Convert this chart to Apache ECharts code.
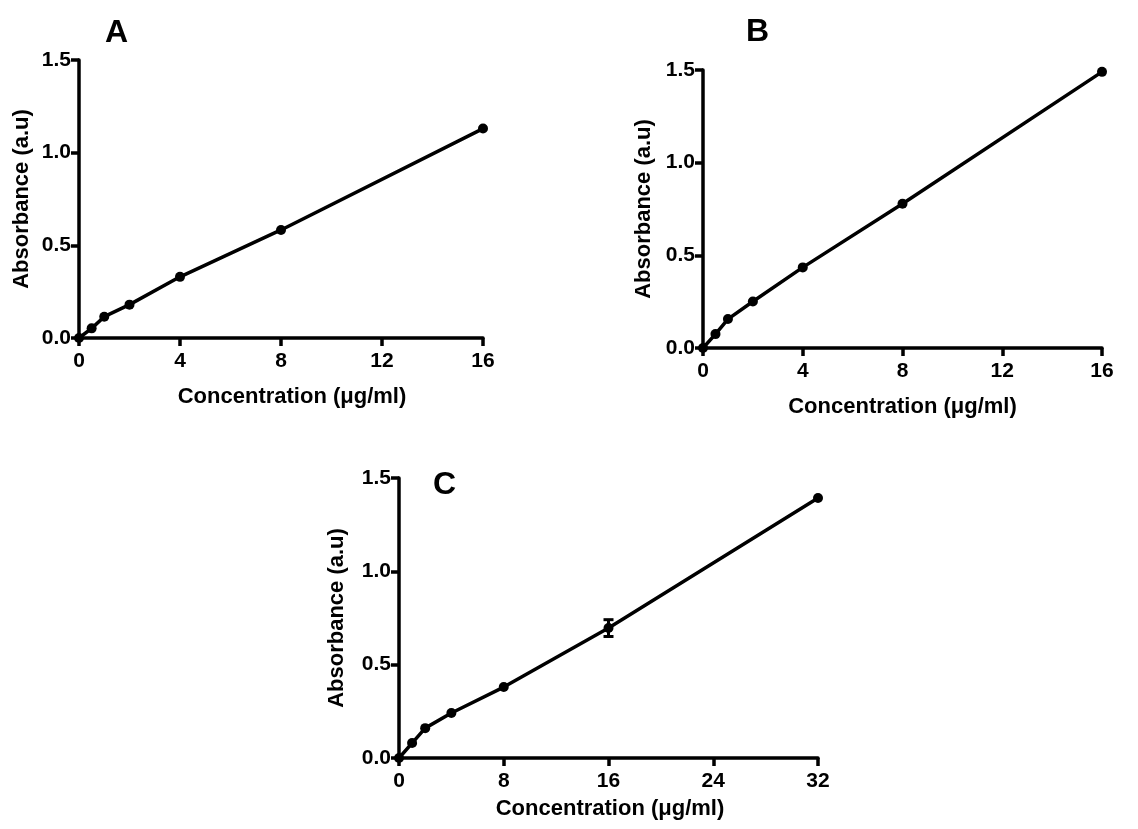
<!DOCTYPE html>
<html>
<head>
<meta charset="utf-8">
<script src="https://cdn.jsdelivr.net/npm/echarts@6/dist/echarts.min.js"></script>
<style>
html, body { margin: 0; padding: 0; background: #fff; }
#main { width: 1138px; height: 829px; }
</style>
</head>
<body>
<div id="main"></div>
<script>
// panel A
var concA = [0, 0.5, 1, 2, 4, 8, 16];
var absA = [0, 0.052, 0.115, 0.18, 0.33, 0.583, 1.13];
// panel B
var concB = [0, 0.5, 1, 2, 4, 8, 16];
var absB = [0, 0.075, 0.156, 0.251, 0.435, 0.778, 1.49];
// panel C
var concC = [0, 1, 2, 4, 8, 16, 32];
var absC = [0, 0.08, 0.16, 0.241, 0.38, 0.696, 1.393];
var errC = [0, 0, 0, 0, 0, 0.045, 0];

var panelLetters = ["A", "B", "C"];
var xTitle = "Concentration (\u03bcg/ml)";
var yTitle = "Absorbance (a.u)";

var FONT = "Liberation Sans, Arial, sans-serif";

function pairs(xs, ys) {
    return xs.map(function (x, i) { return [x, ys[i]]; });
}

function xAxis(idx, max, interval, gap, shift) {
    return {
        type: "value", gridIndex: idx, min: 0, max: max, interval: interval,
        name: xTitle, nameLocation: "middle", nameGap: gap,
        nameTextStyle: {
            color: "#000", fontFamily: FONT, fontWeight: "bold", fontSize: 22,
            padding: [0, 0, 0, shift || 0]
        },
        axisLine: { lineStyle: { color: "#000", width: 3.5 } },
        axisTick: { show: true, length: 8, lineStyle: { color: "#000", width: 3.5 } },
        axisLabel: { color: "#000", fontFamily: FONT, fontWeight: "bold", fontSize: 21, margin: 13 },
        splitLine: { show: false }
    };
}

function yAxis(idx, gap) {
    return {
        type: "value", gridIndex: idx, min: 0, max: 1.5, interval: 0.5,
        name: yTitle, nameLocation: "middle", nameGap: gap,
        nameTextStyle: { color: "#000", fontFamily: FONT, fontWeight: "bold", fontSize: 22 },
        axisLine: { show: true, lineStyle: { color: "#000", width: 3.5 } },
        axisTick: { show: true, length: 8, lineStyle: { color: "#000", width: 3.5 } },
        axisLabel: {
            color: "#000", fontFamily: FONT, fontWeight: "bold", fontSize: 21, margin: 8,
            formatter: function (v) { return v.toFixed(1); }
        },
        splitLine: { show: false }
    };
}

function lineSeries(idx, xs, ys) {
    return {
        type: "line", xAxisIndex: idx, yAxisIndex: idx,
        data: pairs(xs, ys),
        symbol: "circle", symbolSize: 10,
        itemStyle: { color: "#000" },
        lineStyle: { color: "#000", width: 3.5 },
        z: 3
    };
}

var errData = concC.map(function (x, i) {
    return [x, absC[i] - errC[i], absC[i] + errC[i]];
}).filter(function (d, i) { return errC[i] > 0; });

var chart = echarts.init(document.getElementById("main"));
chart.setOption({
    backgroundColor: "#fff",
    animation: false,
    grid: [
        { left: 79, top: 60, width: 404, height: 278 },
        { left: 703, top: 70, width: 399, height: 278 },
        { left: 399, top: 478, width: 419, height: 280 }
    ],
    xAxis: [
        xAxis(0, 16, 4, 48, 22),
        xAxis(1, 16, 4, 48),
        xAxis(2, 32, 8, 40, 3)
    ],
    yAxis: [
        yAxis(0, 46),
        yAxis(1, 48),
        yAxis(2, 51)
    ],
    graphic: [
        { type: "text", left: 105, top: 17, style: { text: panelLetters[0], fill: "#000", font: "bold 32px " + FONT } },
        { type: "text", left: 746, top: 16, style: { text: panelLetters[1], fill: "#000", font: "bold 32px " + FONT } },
        { type: "text", left: 433, top: 469, style: { text: panelLetters[2], fill: "#000", font: "bold 32px " + FONT } }
    ],
    series: [
        lineSeries(0, concA, absA),
        lineSeries(1, concB, absB),
        lineSeries(2, concC, absC),
        {
            type: "custom", xAxisIndex: 2, yAxisIndex: 2,
            data: errData,
            z: 4,
            renderItem: function (params, api) {
                var lo = api.coord([api.value(0), api.value(1)]);
                var hi = api.coord([api.value(0), api.value(2)]);
                var w = 5;
                var st = { stroke: "#000", lineWidth: 3 };
                return {
                    type: "group",
                    children: [
                        { type: "line", shape: { x1: lo[0], y1: lo[1], x2: hi[0], y2: hi[1] }, style: st },
                        { type: "line", shape: { x1: lo[0] - w, y1: lo[1], x2: lo[0] + w, y2: lo[1] }, style: st },
                        { type: "line", shape: { x1: hi[0] - w, y1: hi[1], x2: hi[0] + w, y2: hi[1] }, style: st }
                    ]
                };
            }
        }
    ]
});
</script>
</body>
</html>
